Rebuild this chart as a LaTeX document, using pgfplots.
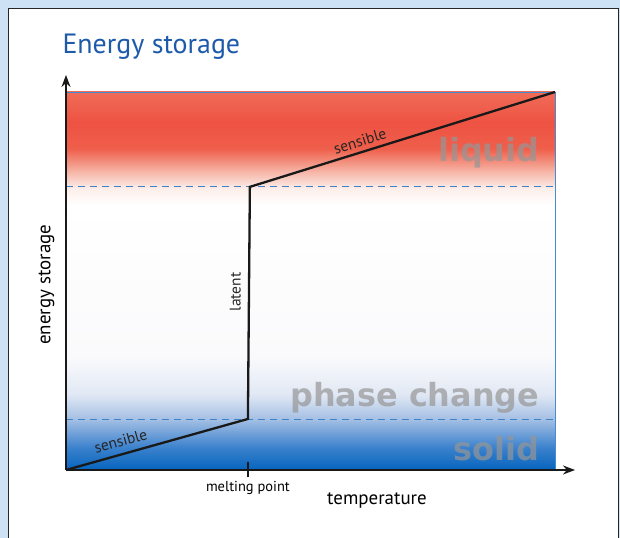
\documentclass[border=0pt]{standalone}
\usepackage{pgfplots}
\pgfplotsset{compat=1.18}
\usepackage{fontspec}
\setmainfont{PT Sans}
\newfontfamily\embfont{DejaVu Sans}
\usetikzlibrary{arrows.meta}
\definecolor{bgblue}{RGB}{205,227,245}
\definecolor{titleblue}{RGB}{30,90,170}
\definecolor{dashblue}{RGB}{60,130,200}
\definecolor{edgeblue}{RGB}{70,140,210}
\definecolor{embgray}{RGB}{150,150,150}
\definecolor{b0}{RGB}{5,100,190}
\definecolor{b1}{RGB}{60,130,205}
\definecolor{b2}{RGB}{165,192,228}
\definecolor{b3}{RGB}{225,232,244}
\definecolor{b4}{RGB}{250,250,252}
\definecolor{r1}{RGB}{252,238,234}
\definecolor{r2}{RGB}{246,180,165}
\definecolor{r3}{RGB}{239,95,75}
\definecolor{r4}{RGB}{238,82,66}
\definecolor{r5}{RGB}{240,108,88}
\newcommand\band[4]{\path[bottom color=#3, top color=#4] (rel axis cs:0,#1) rectangle (rel axis cs:1,#2);}
\newcommand\emb[3]{%
  \node[anchor=base east, font=\embfont\bfseries\fontsize{32}{36}\selectfont, text=embgray, opacity=0.7] at (axis cs:#1,#2) {#3};}
\begin{document}
\begin{tikzpicture}[x=1bp,y=1bp]
\useasboundingbox (0,0) rectangle (620,538);
\fill[bgblue] (0,0) rectangle (620,538);
\fill[white] (8,-2) rectangle (618,529);
\draw[black!85, line width=1bp] (8,-2) -- (8,529) -- (618,529) -- (618,-2);
\node[anchor=west, text=titleblue, font=\fontsize{28}{33}\selectfont] at (59,491) {Energy storage};
\begin{axis}[
  at={(66bp,68bp)}, anchor=south west,
  scale only axis, width=489bp, height=378bp,
  xmin=0, xmax=100, ymin=0, ymax=100,
  axis x line=bottom, axis y line=left,
  axis on top,
  x axis line style={-{Stealth[length=12bp,width=9bp]}, line width=1.6bp, black!90, shorten >=-20bp},
  y axis line style={-{Stealth[length=12bp,width=9bp]}, line width=1.6bp, black!90, shorten >=-17bp},
  xtick={37.2}, xticklabels={melting point}, ytick=\empty,
  major tick length=15bp, tick align=center,
  tick style={black!90, line width=1.3bp},
  xticklabel style={font=\fontsize{14.5}{17}\selectfont, yshift=0bp},
  xlabel={temperature},
  xlabel style={at={(axis description cs:0.636,0)}, anchor=center, yshift=-31bp, font=\fontsize{19}{22}\selectfont},
  ylabel={energy storage},
  ylabel style={at={(axis description cs:-0.04,0.49)}, anchor=center, font=\fontsize{19}{22}\selectfont},
  clip=false,
]
\band{0}{0.06}{b0}{b1}
\band{0.06}{0.135}{b1}{b2}
\band{0.135}{0.2}{b2}{b3}
\band{0.2}{0.3}{b3}{b4}
\band{0.3}{0.70}{b4}{white}
\band{0.70}{0.745}{white}{r1}
\band{0.745}{0.79}{r1}{r2}
\band{0.79}{0.85}{r2}{r3}
\band{0.85}{0.92}{r3}{r4}
\band{0.92}{1}{r4}{r5}
\draw[edgeblue, line width=0.8bp] (rel axis cs:0,1) -- (rel axis cs:1,1) -- (rel axis cs:1,0);
\emb{97.5}{81.5}{liquid}
\emb{97.5}{16.7}{phase change}
\emb{97.5}{2.6}{solid}
\addplot[dashblue, line width=0.9bp, dash pattern=on 7bp off 5bp] coordinates {(0,13.5) (100,13.5)};
\addplot[dashblue, line width=0.9bp, dash pattern=on 7bp off 5bp] coordinates {(0,74.9) (100,74.9)};
\addplot[black!90, line width=2.3bp, line join=miter] coordinates {(0,0) (37.2,13.5) (37.6,74.9) (100,100)};
\node[rotate=15.6, font=\fontsize{15.5}{18}\selectfont, text=black!85] at (axis cs:11.2,7.6) {sensible};
\node[rotate=17.1, font=\fontsize{15.5}{18}\selectfont, text=black!85] at (axis cs:60.1,87.0) {sensible};
\node[rotate=90, font=\fontsize{15.5}{18}\selectfont, text=black!85] at (axis cs:34.6,47.1) {latent};
\end{axis}
\end{tikzpicture}
\end{document}
